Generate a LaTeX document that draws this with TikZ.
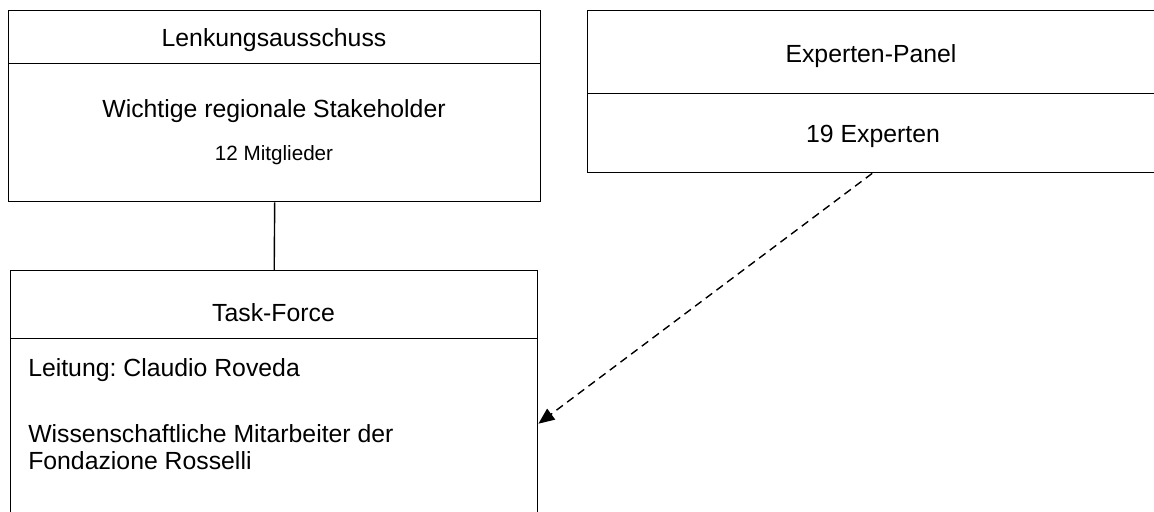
\documentclass[tikz,border=0pt]{standalone}
\usepackage{fontspec}
\setmainfont{Liberation Sans}
\usetikzlibrary{arrows.meta}
\frenchspacing
\begin{document}
\begin{tikzpicture}[x=0.75pt,y=-0.75pt,
  panel/.style={draw=black,line width=1.05pt,inner sep=0pt,anchor=north west},
  label/.style={inner sep=0pt,anchor=base,font=\fontsize{18.6}{20.25}\selectfont},
  small/.style={inner sep=0pt,anchor=base,font=\fontsize{15.5}{18}\selectfont},
  lefttext/.style={inner sep=0pt,anchor=base west,font=\fontsize{18.6}{20.25}\selectfont},
  link/.style={line width=1.05pt},
  dep/.style={line width=1.05pt,dash pattern=on 6pt off 4pt,-{Triangle[length=12pt,width=10pt]}}]
\useasboundingbox (0,0) rectangle (1154,511);

% Lenkungsausschuss
\node[panel,minimum width=399pt,minimum height=39.75pt] (b1head) at (8,10) {};
\node[panel,minimum width=399pt,minimum height=103.5pt] (b1body) at (8,63) {};
\node[label] (b1title) at (274,46) {Lenkungsausschuss};
\node[label] (b1line) at (274,117) {Wichtige regionale Stakeholder};
\node[small] (b1count) at (274,160) {12 Mitglieder};

% Experten-Panel (runs past the right edge)
\node[panel,minimum width=426.75pt,minimum height=62.6pt] (b2head) at (587,9.5) {};
\node[panel,minimum width=426.75pt,minimum height=59.25pt] (b2body) at (587,93) {};
\node[label] (b2title) at (871,62) {Experten-Panel};
\node[label] (b2count) at (873,142) {19 Experten};

% Task-Force (runs past the bottom edge)
\node[panel,minimum width=395.25pt,minimum height=51pt] (b3head) at (10,270) {};
\node[panel,minimum width=395.25pt,minimum height=144pt] (b3body) at (10,338) {};
\node[label] (b3title) at (273.5,321) {Task-Force};
\node[lefttext] (b3lead) at (28,376) {Leitung: Claudio Roveda};
\node[lefttext] (b3staff1) at (28,442) {Wissenschaftliche Mitarbeiter der};
\node[lefttext] (b3staff2) at (28,469) {Fondazione Rosselli};

% connectors
\draw[link] (b1body.south) -- (b3head.north);
\draw[dep] (b2body.south) -- ([yshift=8.25pt]b3body.east);
\end{tikzpicture}
\end{document}
